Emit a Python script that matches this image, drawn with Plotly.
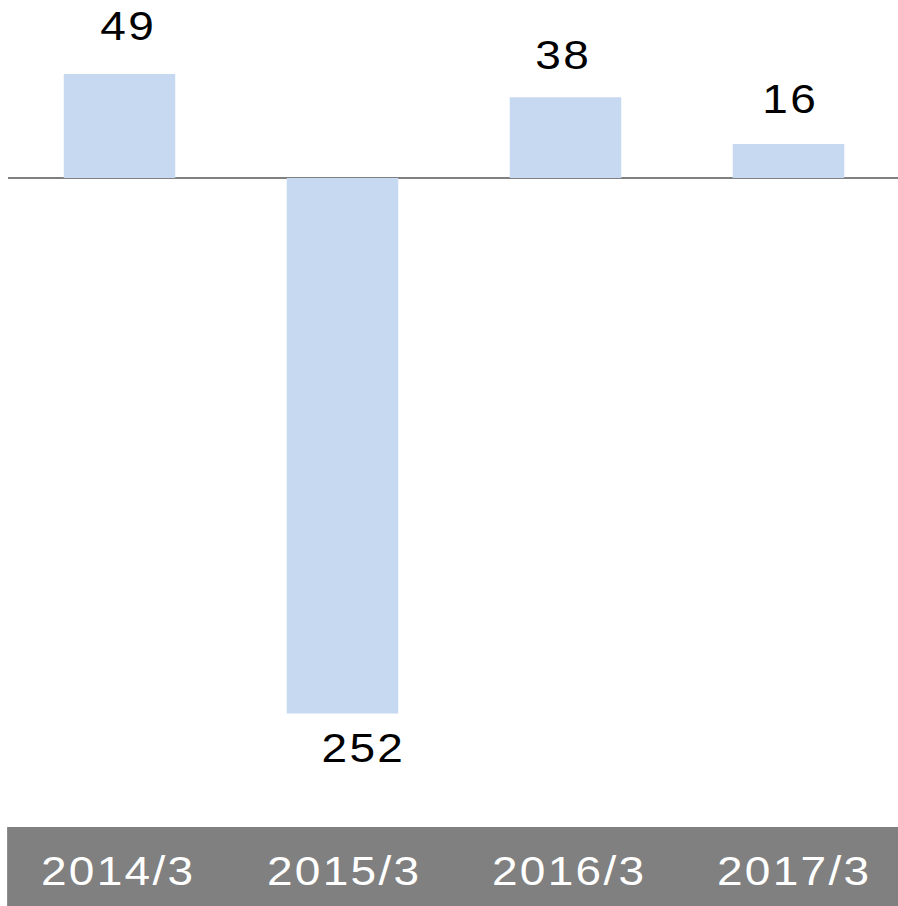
import plotly.graph_objects as go

categories = ["2014/3", "2015/3", "2016/3", "2017/3"]
values = [49, -252, 38, 16]
value_labels = ["49", "252", "38", "16"]

label_xshift = [9, 21, -2, 2]
label_yshift = [48, -34, 42, 45]
cat_xshift = [-2, 1, 3, 5]

BAR_COLOR = "#C6D9F0"
GRAY = "#808080"
FONT = "Liberation Sans, Arial, sans-serif"

fig = go.Figure()
fig.add_trace(go.Bar(
    x=categories, y=values,
    marker=dict(color=BAR_COLOR, line=dict(width=0)),
    width=0.5,
    hoverinfo="skip",
))

annotations = []
for i, (c, v, t) in enumerate(zip(categories, values, value_labels)):
    annotations.append(dict(
        x=c, y=v, xref="x", yref="y", text=t, showarrow=False,
        xanchor="center", yanchor="middle",
        xshift=label_xshift[i], yshift=label_yshift[i],
        font=dict(family=FONT, size=40, color="#000000"),
    ))
for i, c in enumerate(categories):
    annotations.append(dict(
        x=c, y=-44 / 827, xref="x", yref="paper", text=c, showarrow=False,
        xanchor="center", yanchor="middle", xshift=cat_xshift[i],
        font=dict(family=FONT, size=40, color="#FFFFFF"),
    ))

fig.update_layout(
    width=898, height=906,
    margin=dict(l=8, r=0, t=0, b=79, pad=0),
    paper_bgcolor="white", plot_bgcolor="white",
    showlegend=False,
    annotations=annotations,
    shapes=[dict(type="rect", xref="paper", yref="paper",
                 x0=-0.001, x1=1.01, y0=-79 / 827, y1=0,
                 fillcolor=GRAY, line=dict(width=0), layer="below")],
    xaxis=dict(type="category", range=[-0.5, 3.491], showticklabels=False,
               showgrid=False, zeroline=False, showline=False, ticks=""),
    yaxis=dict(range=[-305.4, 83.8], showticklabels=False, showgrid=False,
               zeroline=True, zerolinecolor=GRAY, zerolinewidth=2,
               showline=False, ticks=""),
)

post = (
    "document.body.style.margin='0';document.body.style.overflow='hidden';"
    "document.querySelectorAll('.annotation-text').forEach(function(e){"
    "e.style.letterSpacing='2px';"
    "e.style.transformBox='fill-box';e.style.transformOrigin='center';"
    "e.style.transform='scaleX(1.15)';});"
)

fig.write_html("out.html", config={"displayModeBar": False}, post_script=post)
